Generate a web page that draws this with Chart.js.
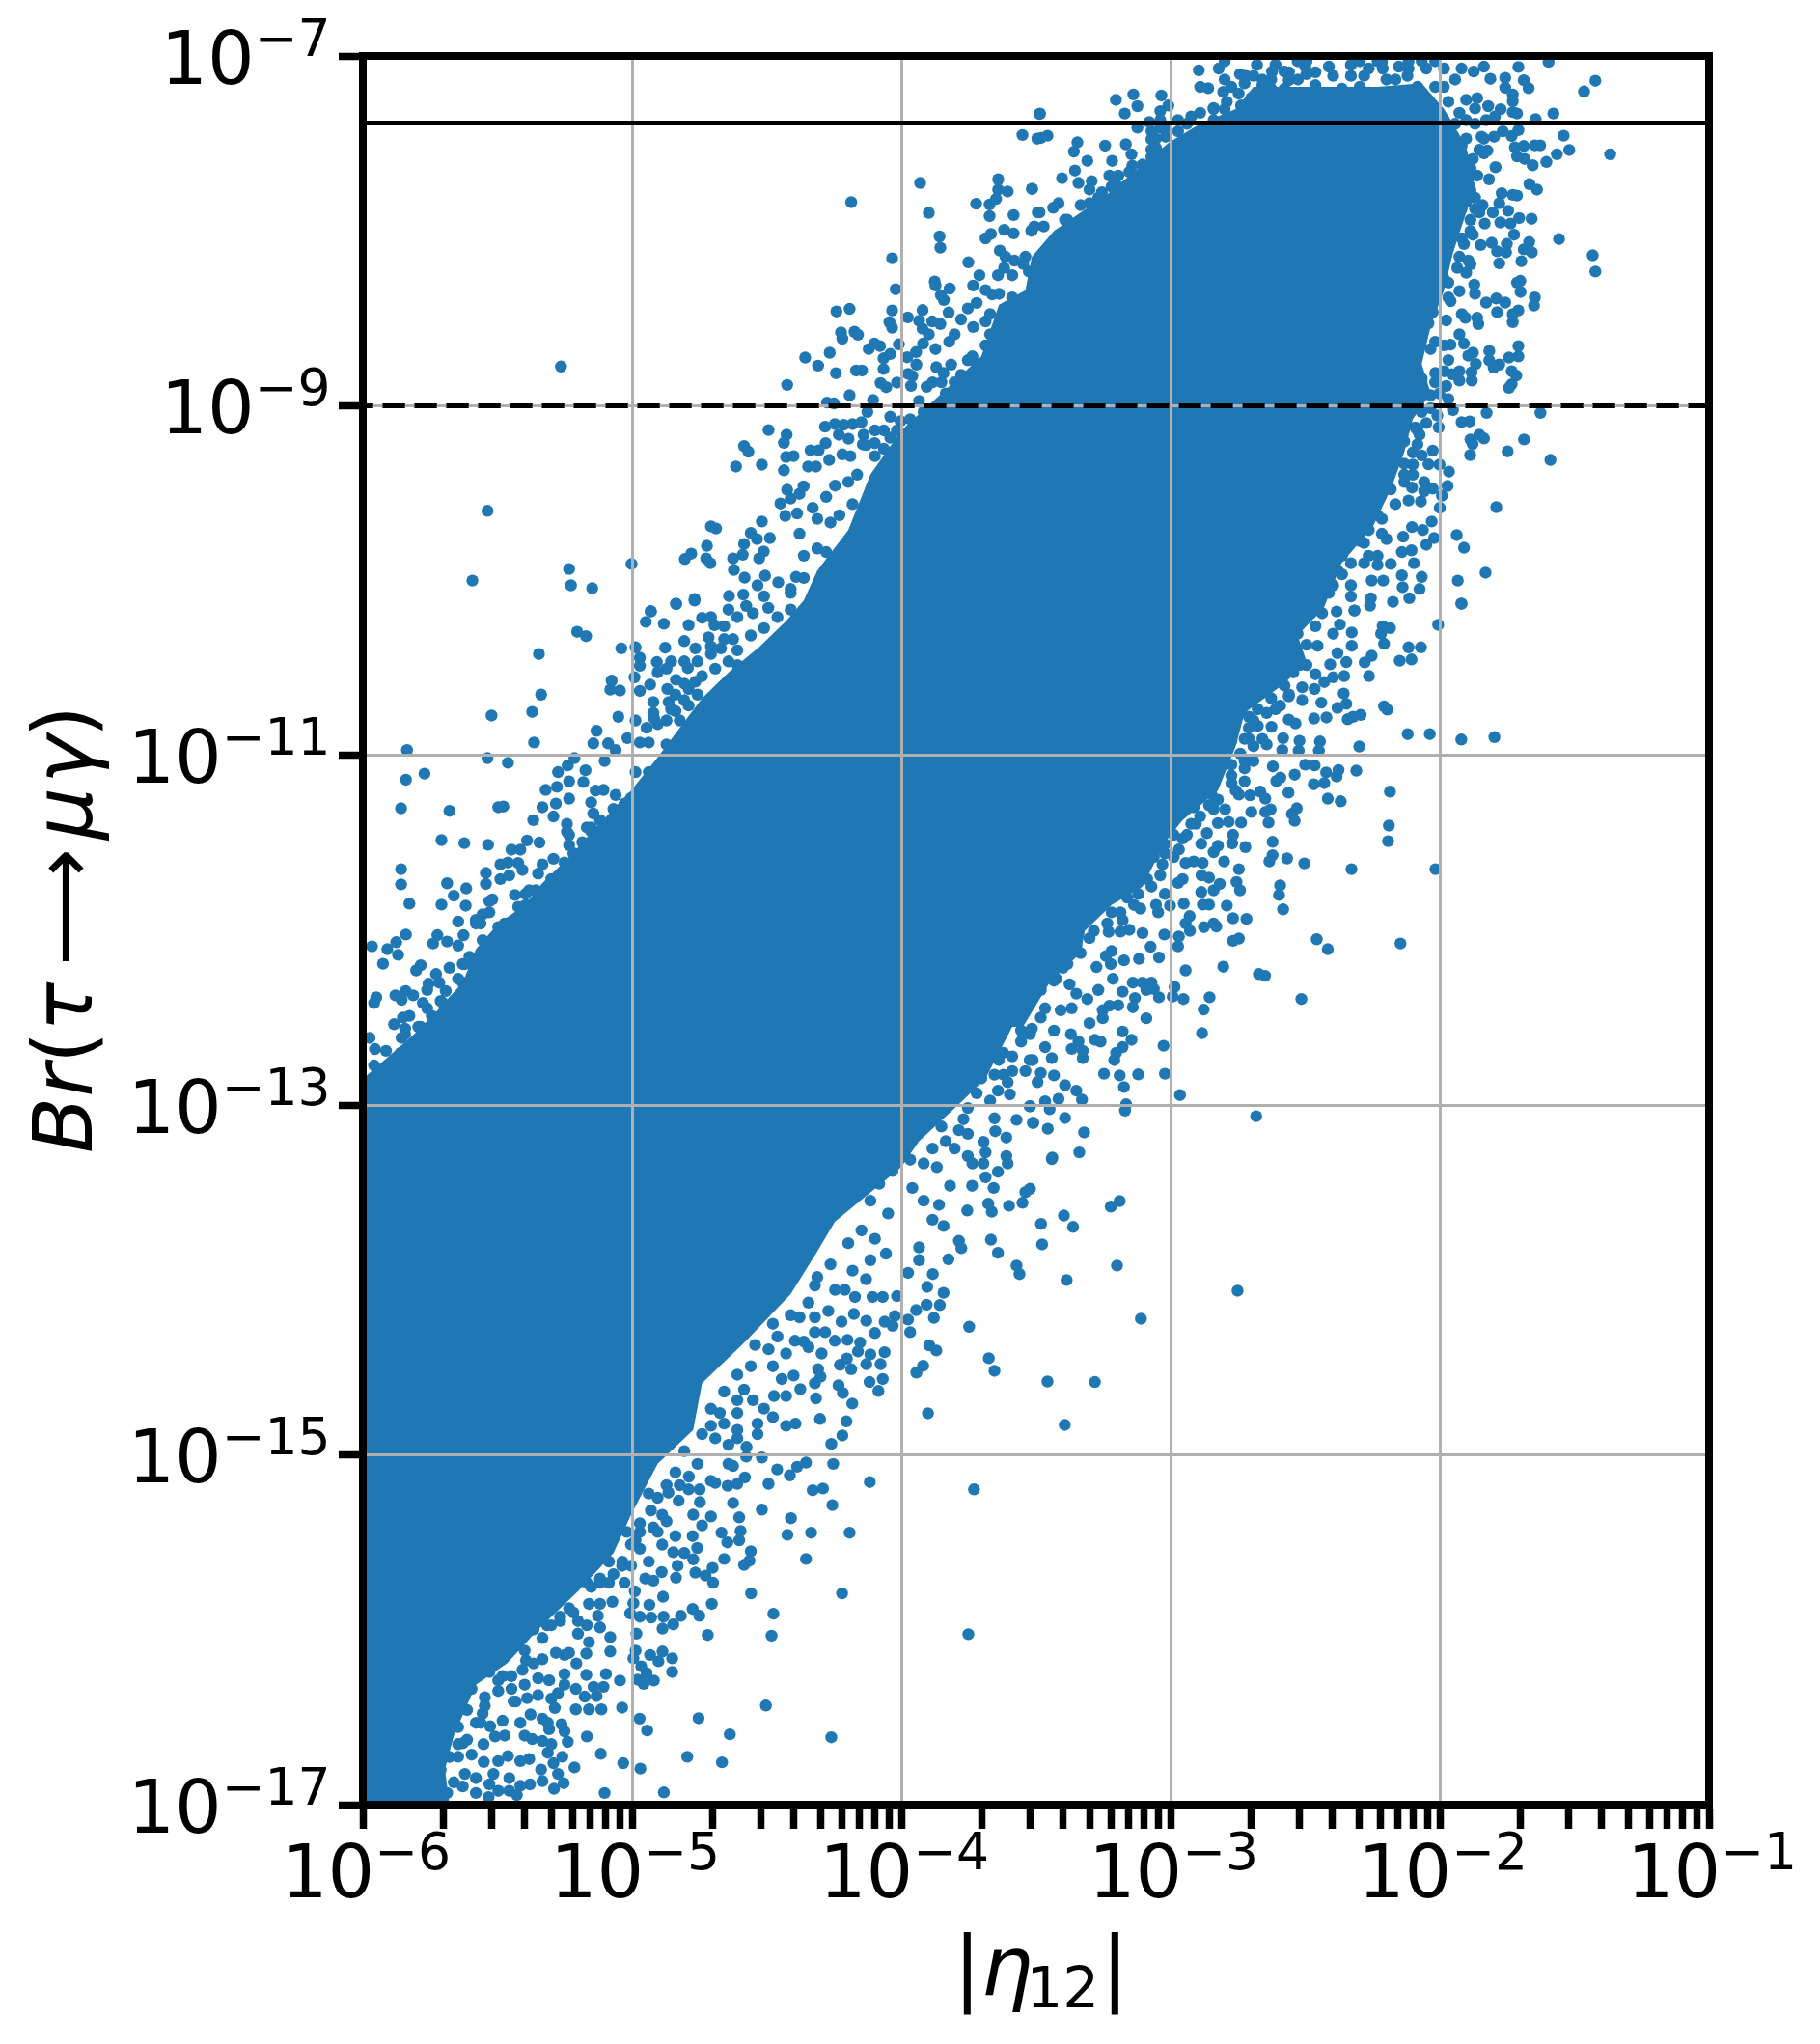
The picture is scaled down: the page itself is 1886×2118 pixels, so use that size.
<!DOCTYPE html>
<html>
<head>
<meta charset="utf-8">
<script src="https://cdn.jsdelivr.net/npm/chart.js@4/dist/chart.umd.min.js"></script>
<style>html,body{margin:0;padding:0;background:#fff}canvas{display:block}</style>
</head>
<body>
<canvas id="c" width="1886" height="2118"></canvas>
<script>
// All data pairs are [log10 |eta12|, log10 Br(tau -> mu gamma)].
const etaTickExponents = [-6,-5,-4,-3,-2,-1];
const etaMinorMultipliers = [2,3,4,5,6,7,8,9];
const brTickExponents = [-7,-9,-11,-13,-15,-17];
const limitBelle = 4.14e-8;
const limitFuture = 1e-9;

// Outline of the region where the points merge into a solid mass.
const solidCore = [
[-6,-12.85],[-5.983,-12.826],[-5.81,-12.594],[-5.728,-12.467],[-5.629,-12.298],[-5.58,-12.108],[-5.497,-11.961],[-5.399,-11.855],
[-5.333,-11.729],[-5.234,-11.581],[-5.135,-11.412],[-5.004,-11.201],[-4.905,-11.011],[-4.823,-10.842],[-4.74,-10.673],[-4.642,-10.525],
[-4.526,-10.377],[-4.427,-10.23],[-4.362,-10.112],[-4.312,-9.943],[-4.197,-9.711],[-4.115,-9.394],[-4,-9.141],[-3.851,-8.93],
[-3.703,-8.718],[-3.637,-8.423],[-3.539,-8.339],[-3.515,-8.148],[-3.433,-8],[-3.334,-7.895],[-3.235,-7.79],[-3.087,-7.6],
[-3.005,-7.494],[-2.89,-7.388],[-2.758,-7.304],[-2.692,-7.177],[-2.495,-7.177],[-2.23,-7.177],[-2.067,-7.156],[-1.984,-7.304],
[-1.902,-7.515],[-1.869,-7.747],[-1.902,-7.895],[-1.951,-8.127],[-1.984,-8.338],[-2.034,-8.55],[-2.067,-8.761],[-2.034,-8.93],
[-2.1,-9.077],[-2.132,-9.267],[-2.182,-9.478],[-2.248,-9.69],[-2.365,-9.901],[-2.43,-10.154],[-2.528,-10.314],[-2.495,-10.462],
[-2.577,-10.589],[-2.725,-10.757],[-2.758,-10.947],[-2.824,-11.201],[-2.955,-11.37],[-3.021,-11.496],[-3.104,-11.75],[-3.219,-11.855],
[-3.318,-12.003],[-3.334,-12.13],[-3.449,-12.298],[-3.548,-12.552],[-3.588,-12.552],[-3.687,-12.847],[-3.786,-12.995],[-3.934,-13.206],
[-4,-13.354],[-4.247,-13.667],[-4.312,-13.837],[-4.411,-14.08],[-4.576,-14.347],[-4.74,-14.59],[-4.773,-14.857],[-4.905,-15.051],
[-5.004,-15.343],[-5.069,-15.561],[-5.201,-15.78],[-5.349,-15.998],[-5.464,-16.192],[-5.58,-16.314],[-5.662,-16.605],[-5.695,-16.799],
[-5.678,-17],[-6,-17]
];

const pointsUpperLeft = [
[-5.264,-8.776],[-5.537,-9.601],[-5.593,-10],[-5.234,-9.934],[-5.227,-10.027],[-5.148,-10.044],[-5.002,-9.905],[-4.931,-10.175],
[-4.837,-10.131],[-4.768,-10.105],[-4.804,-9.877],[-4.78,-9.846],[-4.725,-9.873],[-4.709,-9.901],[-4.722,-9.801],[-4.707,-9.69],
[-4.688,-9.702],[-4.64,-10.088],[-4.622,-9.939],[-4.625,-9.873],[-4.589,-9.852],[-4.584,-9.791],[-4.559,-9.727],[-4.536,-9.763],
[-4.518,-9.662],[-4.488,-9.757],[-4.511,-9.833],[-4.528,-9.873],[-4.582,-9.983],[-4.506,-9.972],[-4.587,-10.08],[-4.534,-10.027],
[-4.51,-10.09],[-4.457,-10.01],[-4.391,-9.979],[-4.411,-10.07],[-4.614,-9.348],[-4.518,-9.337],[-4.584,-9.231],[-4.568,-9.263],
[-4.493,-9.139],[-4.426,-9.166],[-4.436,-9.212],[-4.428,-9.293],[-4.4,-9.288],[-4.436,-9.369],[-4.424,-9.481],[-4.411,-9.531],
[-4.449,-9.559],[-4.431,-9.63],[-4.378,-9.504],[-4.363,-9.461],[-4.387,-9.616],[-4.346,-9.348],[-4.317,-9.348],[-4.337,-9.255],
[-4.307,-9.255],[-4.281,-9.214],[-4.268,-9.31],[-4.283,-9.12],[-4.247,-9.105],[-4.214,-9.109],[-4.181,-9.105],[-4.148,-9.094],
[-4.232,-9.166],[-4.196,-9.189],[-4.219,-9.278],[-4.189,-9.288],[-4.14,-9.166],[-4.143,-9.221],[-4.099,-9.214],[-4.065,-9.141],
[-4.041,-9.063],[-4.003,-9.088],[-4.126,-9.035],[-4.276,-8.982],[-4.25,-8.987],[-4.192,-8.94],[-4.105,-8.967],[-4.424,-8.881],
[-4.243,-8.814],[-4.168,-8.799],[-4.146,-8.799],[-4.066,-8.79],[-4.077,-8.87],[-4.056,-8.894],[-4.016,-8.868],[-4.357,-8.725],
[-4.309,-8.771],[-4.266,-8.697],[-4.219,-8.617],[-4.224,-8.581],[-4.174,-8.577],[-4.161,-8.594],[-4.121,-8.676],[-4.1,-8.645],
[-4.079,-8.659],[-4.066,-8.729],[-4.041,-8.704],[-4.009,-8.649],[-4.241,-8.461],[-4.192,-8.446],[-4.044,-8.522],[-4.034,-8.554],
[-4.034,-8.455],[-3.976,-8.495],[-4.021,-8.334],[-4.034,-8.157],[-4.186,-7.836],[-3.93,-7.726],[-3.898,-7.897],[-3.858,-8.032],
[-3.855,-8.096],[-3.876,-8.29],[-3.873,-8.313],[-3.853,-8.368],[-3.842,-8.395],[-3.82,-8.33],[-3.921,-8.453],[-3.934,-8.514],
[-3.921,-8.56],[-3.885,-8.518],[-3.855,-8.533],[-3.824,-8.467],[-3.778,-8.507],[-3.898,-8.592],[-3.919,-8.645],[-3.873,-8.676],
[-3.945,-8.693],[-3.978,-8.723],[-3.944,-8.765],[-3.975,-8.818],[-3.959,-8.83],[-3.964,-8.887],[-3.906,-8.892],[-3.87,-8.78],
[-3.815,-8.765],[-3.843,-8.813],[-3.778,-8.824],[-3.736,-8.845],[-3.822,-8.634],[-3.802,-8.592],[-3.736,-8.718],[-3.753,-8.444],
[-3.72,-8.412],[-3.733,-8.55],[-3.687,-8.518],[-3.67,-8.476],[-3.733,-8.313],[-3.71,-8.254],[-3.687,-8.339],[-3.662,-8.364],
[-3.751,-8.18],[-3.641,-8.254],[-3.634,-8.113],[-3.613,-8.148],[-3.58,-8.17],[-3.539,-8.148],[-3.547,-8.19],[-3.526,-8.233],
[-3.618,-8.212],[-3.588,-8.254],[-3.687,-8.043],[-3.667,-8.018],[-3.618,-7.994],[-3.583,-8.015],[-3.517,-8],[-3.506,-7.975],
[-3.722,-7.845],[-3.672,-7.849],[-3.672,-7.916],[-3.583,-7.91],[-3.493,-7.895],[-3.648,-7.817],[-3.64,-7.764],[-3.64,-7.705],
[-3.605,-7.775],[-3.514,-7.76],[-3.55,-7.452],[-3.495,-7.473],[-3.486,-7.332],
[-4.378,-9.732],[-4.362,-9.858],[-4.312,-9.816],[-4.329,-9.584],[-4.263,-9.668],[-4.279,-9.521],[-4.312,-9.647],[-4.23,-9.626],
[-4.246,-9.457],[-4.197,-9.436],[-4.164,-9.394],[-4.181,-9.563],[-4.131,-9.225],[-4.098,-9.288],[-4.065,-9.246],[-4.041,-9.183],
[-4.098,-9.141],[-4.016,-9.141],[-3.967,-9.077],[-3.917,-9.035],[-3.95,-9.141],[-3.851,-8.866],[-3.884,-8.866],[-3.835,-8.93],
[-3.934,-8.972],[-3.802,-8.866],[-3.753,-8.74],[-3.72,-8.761],[-3.687,-8.655],[-3.67,-8.592],[-3.637,-8.55],[-3.588,-8.507],
[-3.555,-8.423],[-3.522,-8.36],[-3.489,-8.317],[-3.637,-8.36],[-3.588,-8.381],[-4.362,-9.985],[-4.312,-10.027],[-4.411,-10.048],
[-4.263,-9.901],[-4.279,-9.837]
];

const pointsUpperRight = [
[-3.485,-7.329],[-3.482,-7.469],[-3.457,-7.456],[-3.346,-7.494],[-3.359,-7.547],[-3.243,-7.513],[-3.166,-7.505],[-3.145,-7.562],
[-3.309,-7.6],[-3.217,-7.6],[-3.142,-7.627],[-3.355,-7.655],[-3.403,-7.699],[-3.515,-7.76],[-3.342,-7.726],[-3.293,-7.716],
[-3.227,-7.684],[-3.194,-7.684],[-3.104,-7.68],[-3.203,-7.251],[-3.138,-7.22],[-3.17,-7.329],[-3.123,-7.287],[-3.034,-7.226],
[-3.038,-7.315],[-3.008,-7.283],[-3.079,-7.378],[-3.123,-7.41],[-3.071,-7.477],[-3.038,-7.41],[-3.018,-7.462],[-3.071,-7.579],
[-3.054,-7.526],[-3.202,-7.737],[-3.301,-7.764],[-3.255,-7.779],[-3.436,-7.868],[-3.416,-7.842],[-3.487,-7.895],[-3.471,-7.975],
[-3.515,-7.996],[-3.392,-7.937],[-3.301,-7.842],[-2.895,-7.082],[-2.89,-7.177],[-2.86,-7.184],[-2.821,-7.072],[-2.799,-7.03],
[-2.742,-7.104],[-2.72,-7.114],[-2.799,-7.135],[-2.774,-7.177],[-2.804,-7.205],[-2.747,-7.215],[-2.679,-7.051],[-2.623,-7.089],
[-2.577,-7.089],[-2.561,-7.139],[-2.659,-7.167],[-2.626,-7.188],[-2.577,-7.188],[-2.5,-7.061],[-2.495,-7.104],[-2.462,-7.167],
[-2.412,-7.061],[-2.33,-7.051],[-2.363,-7.188],[-2.281,-7.114],[-2.212,-7.072],[-2.198,-7.135],[-2.152,-7.061],[-2.12,-7.114],
[-2.05,-7.072],[-2.84,-7.298],[-2.799,-7.304],[-2.738,-7.283],[-2.7,-7.24],[-2.544,-7.237],[-2.462,-7.262],[-2.396,-7.23],
[-2.264,-7.209],[-2.198,-7.209],[-2.116,-7.22],[-2.528,-7.03],[-2.297,-7.03],[-2.215,-7.034],[-2.116,-7.03],[-1.985,-7.177],
[-1.943,-7.135],[-1.919,-7.072],[-1.874,-7.089],[-1.836,-7.061],[-1.812,-7.131],[-1.757,-7.125],[-1.708,-7.063],[-1.596,-7.034],
[-1.688,-7.139],[-1.67,-7.184],[-1.757,-7.182],[-1.729,-7.22],[-1.729,-7.258],[-1.774,-7.304],[-1.729,-7.321],[-1.713,-7.329],
[-1.644,-7.361],[-1.578,-7.329],[-1.861,-7.241],[-1.869,-7.3],[-1.82,-7.287],[-1.902,-7.251],[-1.927,-7.325],[-1.968,-7.262],
[-1.464,-7.203],[-1.422,-7.142],[-1.828,-7.367],[-1.795,-7.346],[-1.708,-7.424],[-1.766,-7.431],[-1.798,-7.462],[-1.733,-7.458],
[-1.845,-7.462],[-1.54,-7.456],[-1.519,-7.538],[-1.367,-7.562],[-1.565,-7.562],[-1.604,-7.606],[-1.721,-7.522],[-1.688,-7.515],
[-1.647,-7.511],[-1.627,-7.511],[-1.713,-7.574],[-1.685,-7.589],[-1.655,-7.625],[-1.823,-7.541],[-1.877,-7.589],[-1.793,-7.636],
[-1.817,-7.705],[-1.861,-7.684],[-1.919,-7.515],[-1.667,-7.733],[-1.639,-7.764],[-1.77,-7.785],[-1.729,-7.794],[-1.713,-7.798],
[-1.779,-7.842],[-1.746,-7.885],[-1.841,-7.853],[-1.869,-7.874],[-1.886,-7.937],[-1.775,-7.952],[-1.833,-7.958],[-1.705,-7.927],
[-1.659,-7.931],[-1.737,-7.958],[-1.724,-8.022],[-1.877,-8.022],[-1.557,-8.047],[-1.668,-8.064],[-1.688,-8.106],[-1.658,-8.123],
[-1.751,-8.075],[-1.848,-8.081],[-1.807,-8.068],[-1.787,-8.117],[-1.754,-8.123],[-1.779,-8.186],[-1.697,-8.174],[-1.432,-8.14],
[-1.422,-8.233],[-1.91,-8.075],[-1.968,-8.064],[-1.894,-8.17],[-1.902,-8.239],[-1.872,-8.307],[-1.701,-8.286],[-1.713,-8.296],
[-1.7,-8.349],[-1.647,-8.381],[-1.65,-8.427],[-1.828,-8.41],[-1.79,-8.387],[-1.757,-8.41],[-1.787,-8.465],[-1.708,-8.455],
[-1.729,-8.476],[-1.729,-8.522],[-1.869,-8.36],[-1.927,-8.345],[-1.96,-8.402],[-1.918,-8.476],[-1.905,-8.497],[-1.861,-8.497],
[-1.857,-8.533],[-1.976,-8.512],[-1.927,-8.592],[-1.91,-8.645],[-1.96,-8.651],[-1.816,-8.687],[-1.708,-8.659],[-1.708,-8.718],
[-1.743,-8.725],[-1.816,-8.74],[-1.779,-8.765],[-1.8,-8.782],[-1.866,-8.761],[-1.877,-8.697],[-1.894,-8.714],[-1.733,-8.803],
[-1.716,-8.828],[-1.733,-8.877],[-1.743,-8.898],[-1.882,-8.809],[-1.881,-8.856],[-1.927,-8.803],[-1.955,-8.82],[-1.927,-8.856],
[-1.976,-8.887],[-1.968,-8.961],[-1.826,-9.041],[-1.626,-9.041],[-1.951,-9.025],[-1.919,-9.094],[-1.889,-9.09],[-1.836,-9.187],
[-1.853,-9.166],[-1.886,-9.193],[-1.878,-9.219],[-1.687,-9.193],[-1.748,-9.261],[-1.887,-9.282],[-1.589,-9.31],[-1.966,-9.377],
[-1.971,-9.459],[-1.992,-9.514],[-1.79,-9.58],[-2,-9.584],[-1.937,-9.74],[-1.91,-9.812],[-1.83,-9.955],[-1.933,-10],
[-1.92,-10.131],[-2.021,-9.757],[-2.05,-9.795],[-2.103,-9.694],[-2.063,-9.711],[-2.03,-9.662],[-2.136,-9.749],[-2.105,-9.827],
[-2.141,-9.837],[-2.096,-9.901],[-2.141,-9.97],[-2.067,-9.979],[-2.138,-10.038],[-2.075,-10.048],[-2.113,-10.101],[-2.174,-10.122],
[-2.256,-10.101],[-2.259,-10.143],[-2.317,-10.171],[-2.21,-10],[-2.253,-10],[-2.33,-10.027],[-2.1,-9.337],[-2.042,-9.335],
[-2.001,-9.337],[-2.103,-9.468],[-2.058,-9.436],[-2.026,-9.474],[-2.058,-9.489],[-2.07,-9.548],[-2.116,-9.542],[-2.067,-9.284],
[-2.026,-9.257],[-2.091,-9.124],[-2.05,-9.099],[-2.004,-9.124],[-2.075,-9.166],[-2.083,-9.221],[-2.132,-9.204],[-2.009,-9.056],
[-2.058,-8.919],[-2.034,-8.94],[-2.067,-8.845],[-2.017,-8.813],[-2.034,-8.676],[-1.984,-8.655],[-2.042,-8.529],[-2.026,-8.465],
[-2.059,-8.423],[-2.042,-8.317],[-1.984,-8.275],[-1.992,-8.17],[-1.968,-7.916],[-1.919,-7.874],[-1.984,-7.747],[-1.886,-7.769],
[-1.902,-7.684],[-1.968,-7.621],[-2.182,-9.204],[-2.198,-9.288],[-2.132,-9.394],[-2.182,-9.478],[-2.215,-9.647],[-2.198,-9.763],
[-2.281,-9.785],[-2.347,-9.774],[-2.231,-9.859],[-2.33,-9.901],[-2.231,-9.911],[-2.182,-9.905],[-2.379,-9.943],[-2.412,-10.07],
[-2.33,-10.091],[-2.478,-9.996],[-2.495,-10.154],
[-3.466,-8.127],[-3.383,-7.937],[-3.334,-7.853],[-3.268,-7.811],[-3.219,-7.747],[-3.169,-7.747],[-3.136,-7.705],[-3.104,-7.621],
[-3.071,-7.536],[-3.054,-7.473],[-3.021,-7.41],[-2.972,-7.367],[-2.923,-7.346],[-2.84,-7.304],[-2.791,-7.262],[-2.725,-7.156],
[-2.659,-7.135],[-2.972,-7.431],[-2.939,-7.388],[-2.89,-7.325],[-2.84,-7.367],[-3.071,-7.431],[-3.038,-7.367],[-3.153,-7.663],
[-2.626,-7.135],[-2.527,-7.135],[-2.462,-7.093],[-2.396,-7.114],[-2.33,-7.114],[-2.264,-7.072],[-2.165,-7.135],[-2.116,-7.072],
[-2.067,-7.03],[-2.61,-7.051],[-2.56,-7.093],[-2.495,-7.03],[-2.297,-7.177],[-2.231,-7.03],[-2.083,-7.177],[-2.017,-7.03],
[-1.984,-7.072],[-2.017,-7.177],[-2.692,-7.114],[-1.984,-7.367],[-1.943,-7.388],[-1.902,-7.367],[-1.869,-7.388],[-1.968,-7.473],
[-1.902,-7.473],[-1.836,-7.473],[-1.853,-7.536],[-1.836,-7.557],[-1.886,-7.642],[-1.902,-7.621],[-1.918,-7.726],[-1.869,-7.811],
[-1.902,-7.832],[-1.853,-7.895],[-1.803,-7.895],[-1.886,-8.001],[-1.918,-8.043],[-1.927,-8.148],[-1.886,-8.191],[-1.935,-8.212],
[-1.968,-8.296],[-1.968,-8.381],[-2.017,-8.634],[-1.968,-8.739],[-1.935,-8.824],[-1.984,-8.803],[-2.001,-8.93],[-2.017,-8.866],
[-2.034,-9.014],[-2.067,-9.035],[-2.083,-9.141],[-2.1,-9.267],[-2.132,-9.331],[-2.132,-9.436],[-2.1,-9.394],[-2.165,-9.563],
[-2.231,-9.626],[-2.215,-9.732],[-2.264,-9.711],[-2.297,-9.774],[-2.363,-9.964],[-2.396,-10.027],[-2.462,-10.091],[-2.363,-9.858],
[-2.281,-9.901],[-2.264,-9.858]
];

const pointsMiddleRight = [
[-1.919,-10.133],[-2.006,-10.253],[-2.185,-10.272],[-2.212,-10.261],[-2.218,-10.304],[-2.207,-10.361],[-2.116,-10.382],[-2.07,-10.382],
[-2.149,-10.458],[-2.105,-10.451],[-2.253,-10.43],[-2.279,-10.468],[-2.263,-10.546],[-2.327,-10.373],[-2.327,-10.297],[-2.383,-10.177],
[-2.317,-10.171],[-2.371,-10.251],[-2.396,-10.304],[-2.454,-10.373],[-2.495,-10.367],[-2.38,-10.415],[-2.347,-10.466],[-2.407,-10.479],
[-2.355,-10.546],[-2.396,-10.553],[-2.429,-10.58],[-2.462,-10.536],[-2.465,-10.62],[-2.357,-10.646],[-2.347,-10.705],[-2.38,-10.728],
[-2.44,-10.698],[-2.207,-10.719],[-2.195,-10.738],[-2.294,-10.768],[-2.322,-10.779],[-2.342,-10.793],[-2.421,-10.783],[-2.467,-10.789],
[-2.119,-10.878],[-2.037,-10.878],[-1.92,-10.909],[-1.797,-10.895],[-2.299,-10.949],[-2.445,-10.92],[-2.449,-10.973],[-2.521,-10.916],
[-2.524,-10.973],[-2.582,-10.901],[-2.585,-10.969],[-2.536,-10.817],[-2.561,-10.795],[-2.625,-10.836],[-2.31,-11.087],[-2.376,-11.083],
[-2.383,-11.12],[-2.422,-11.097],[-2.429,-11.158],[-2.468,-11.165],[-2.465,-11.057],[-2.5,-11.053],[-2.539,-11.11],[-2.592,-11.127],
[-2.607,-11.146],[-2.62,-11.063],[-2.185,-11.207],[-2.416,-11.247],[-2.368,-11.262],[-2.562,-11.213],[-2.189,-11.401],[-2.192,-11.49],
[-2.531,-11.302],[-2.549,-11.334],[-2.539,-11.374],[-2.628,-11.308],[-2.648,-11.323],[-2.636,-11.384],[-2.7,-11.323],[-2.667,-11.207],
[-2.648,-11.247],[-2.705,-11.228],[-2.746,-11.224],[-2.797,-11.308],[-2.738,-11.384],[-2.784,-11.38],[-2.824,-11.387],[-2.768,-11.454],
[-2.771,-11.503],[-2.722,-11.524],[-2.621,-11.494],[-2.621,-11.57],[-2.633,-11.606],[-2.567,-11.589],[-2.503,-11.617],[-2.328,-11.65],
[-2.016,-11.65],[-2.746,-11.65],[-2.801,-11.606],[-2.824,-11.517],[-2.84,-11.553],[-2.886,-11.505],[-2.865,-11.444],[-2.881,-11.615],
[-2.914,-11.606],[-2.944,-11.615],[-2.969,-11.538],[-2.885,-11.686],[-2.857,-11.699],[-2.817,-11.735],[-2.84,-11.771],[-2.886,-11.781],
[-2.755,-11.724],[-2.742,-11.771],[-2.593,-11.743],[-2.597,-11.798],[-2.582,-11.88],[-2.791,-11.859],[-2.857,-11.853],[-2.88,-11.853],
[-2.951,-11.847],[-3.002,-11.859],[-2.768,-11.931],[-2.718,-11.935],[-2.929,-11.919],[-2.944,-11.961],[-2.928,-12.003],[-2.876,-11.982],
[-2.84,-11.961],[-2.83,-11.978],[-2.457,-12.051],[-2.416,-12.108],[-2.146,-12.075],[-2.746,-12.047],[-2.768,-12.06],[-2.969,-12.035],
[-2.972,-12.092],[-3.023,-12.024],[-3.104,-12.016],[-3.153,-11.997],[-3.178,-11.942],[-3.23,-12.009],[-3.186,-12.007],[-3.074,-12.094],
[-3.117,-12.163],[-3.043,-12.155],[-3.173,-12.172],[-3.219,-12.119],[-3.24,-12.147],[-3.222,-12.193],[-3.275,-12.21],[-2.804,-12.208],
[-2.944,-12.229],[-2.672,-12.25],[-2.649,-12.26],[-2.514,-12.393],[-2.855,-12.383],[-2.877,-12.453],[-2.883,-12.588],[-2.952,-12.393],
[-2.992,-12.379],[-2.985,-12.324],[-3.043,-12.383],[-3.071,-12.299],[-3.104,-12.299],[-3.14,-12.299],[-3.062,-12.336],[-3.09,-12.341],
[-3.178,-12.351],[-3.132,-12.387],[-3.14,-12.44],[-3.194,-12.429],[-3.227,-12.431],[-3.252,-12.457],[-3.252,-12.503],[-3.214,-12.277],
[-3.268,-12.341],[-3.309,-12.393],[-3.09,-12.503],[-3.301,-12.531],[-3.178,-12.579],[-3.145,-12.626],[-3.178,-12.668],[-3.202,-12.7],
[-3.209,-12.742],[-3.281,-12.626],[-3.26,-12.636],[-3.026,-12.66],[-3.021,-12.82],[-3.12,-12.824],[-3.247,-12.82],[-3.189,-12.83],
[-3.173,-12.896],[-2.965,-12.942],[-3.165,-12.995],[-3.169,-13.031],[-3.326,-12.731],[-3.326,-12.689],[-3.367,-12.678],[-3.342,-12.636],
[-3.37,-12.594],[-3.433,-12.83],[-3.392,-12.885],[-3.35,-12.917],[-3.329,-12.968],[-3.416,-12.964],[-3.482,-12.816],[-3.494,-12.868],
[-3.466,-12.978],[-3.449,-13.023],[-3.523,-13.006],[-3.51,-13.101],[-3.456,-13.135],[-3.392,-13.073],[-3.321,-13.156],[-2.682,-13.063],
[-3.339,-13.27],[-3.439,-13.299],[-3.021,-11.792],[-3.054,-11.855],[-3.112,-11.876],[-3.046,-11.897],[-3.161,-11.813],[-3.219,-11.897],
[-3.285,-12.003],[-3.334,-12.13],[-3.383,-12.193],[-3.425,-12.277],[-3.466,-12.446],[-3.408,-12.457],[-3.367,-12.446],[-3.482,-12.499],
[-3.515,-12.562],[-3.433,-12.573],[-3.466,-12.668],[-3.441,-12.731],[-3.523,-12.742],[-3.35,-12.362],[-3.375,-12.309],[-3.433,-12.288],
[-3.515,-12.341],[-3.079,-11.517],[-3.021,-11.507],[-3.062,-11.581],[-3.03,-11.623],[-2.972,-11.729],[-2.955,-11.707],[-3.12,-11.623],
[-3.087,-11.707],[-3.153,-11.475],[-3.219,-11.623],[-3.301,-11.771],[-2.955,-11.475],[-2.906,-11.391],[-2.84,-11.306],[-2.914,-11.296],
[-2.848,-11.222],[-2.774,-11.158],[-2.725,-11.148],[-2.774,-11.053],[-2.725,-11.032],[-2.692,-11.032],[-2.692,-10.947],[-2.774,-10.916],
[-2.709,-10.905],[-2.643,-10.937],[-2.676,-10.831],[-2.709,-10.779],[-2.61,-10.736],[-2.676,-10.736],[-2.561,-10.662],[-2.511,-10.684],
[-2.643,-10.61],[-2.577,-10.6],[-2.511,-10.61],[-2.519,-10.483],[-2.626,-10.441],[-2.462,-10.261],[-2.528,-10.304],[-2.478,-10.187],
[-2.437,-10.187],[-2.544,-10.377],
[-2.495,-10.483],[-2.544,-10.525],[-2.56,-10.652],[-2.593,-10.715],[-2.626,-10.673],[-2.643,-10.757],[-2.692,-10.8],[-2.709,-10.842],
[-2.725,-10.905],[-2.659,-10.905],[-2.741,-10.99],[-2.725,-11.074],[-2.774,-11.116],[-2.758,-11.201],[-2.824,-11.253],[-2.857,-11.285],
[-2.89,-11.348],[-2.923,-11.391],[-2.939,-11.454],[-2.988,-11.454],[-2.988,-11.581],[-3.021,-11.56],[-3.038,-11.686],[-3.071,-11.75],
[-3.12,-11.792],[-3.136,-11.855],[-3.186,-11.897],[-3.235,-11.961],[-3.301,-11.918],[-3.301,-12.045],[-3.35,-12.087],[-3.383,-12.108],
[-3.4,-12.214],[-3.441,-12.256],[-3.482,-12.341]
];

const pointsMiddleLeft = [
[-5.204,-10.293],[-5.171,-10.318],[-5.346,-10.42],[-5.338,-10.652],[-5.371,-10.751],[-5.522,-10.772],[-5.364,-10.926],[-5.836,-10.969],
[-5.537,-11.015],[-5.461,-11.042],[-5.771,-11.104],[-5.84,-11.139],[-5.858,-11.302],[-5.678,-11.317],[-5.497,-11.296],[-5.478,-11.292],
[-5.708,-11.484],[-5.623,-11.501],[-5.535,-11.511],[-5.39,-11.486],[-5.344,-11.498],[-5.448,-11.539],[-5.415,-11.539],[-5.367,-11.37],
[-5.858,-11.65],[-5.858,-11.737],[-5.827,-11.847],[-5.687,-11.731],[-5.616,-11.76],[-5.662,-11.802],[-5.708,-11.853],[-5.618,-11.859],
[-5.543,-11.672],[-5.543,-11.735],[-5.489,-11.623],[-5.461,-11.612],[-5.423,-11.615],[-5.407,-11.655],[-5.489,-11.707],[-5.456,-11.686],
[-5.435,-11.798],[-5.396,-11.792],[-5.53,-11.834],[-5.519,-11.823],[-5.423,-11.866],[-5.394,-11.855],[-5.358,-11.771],[-5.333,-11.623],
[-5.292,-11.591],[-5.349,-11.676],[-5.292,-11.792],[-5.251,-11.612],[-5.234,-11.513],[-5.242,-11.391],[-5.242,-11.437],[-5.292,-11.349],
[-5.333,-11.296],[-5.283,-11.275],[-5.234,-11.247],[-5.321,-11.197],[-5.279,-11.18],[-5.275,-11.095],[-5.239,-11.057],[-5.214,-11.015],
[-5.173,-11.085],[-5.181,-11.152],[-5.234,-11.148],[-5.152,-11.268],[-5.144,-11.332],[-5.135,-11.201],[-5.106,-11.197],[-5.061,-11.226],
[-5.102,-11.032],[-5.076,-10.572],[-5.081,-10.624],[-5.045,-10.629],[-5.051,-10.779],[-5.132,-10.859],[-5.144,-10.931],[-5.089,-10.931],
[-5.061,-10.969],[-5.017,-10.901],[-5.04,-10.388],[-4.987,-10.382],[-4.971,-10.441],[-4.971,-10.487],[-4.949,-10.236],[-4.93,-10.177],
[-4.882,-10.247],[-4.836,-10.135],[-4.768,-10.114],[-4.79,-10.255],[-4.74,-10.213],[-4.694,-10.255],[-4.806,-10.346],[-4.877,-10.384],
[-4.908,-10.466],[-4.872,-10.504],[-4.793,-10.5],[-4.837,-10.567],[-4.933,-10.595],[-4.991,-10.553],[-4.971,-10.631],[-4.921,-10.694],
[-4.869,-10.62],[-4.864,-10.694],[-4.806,-10.684],[-4.918,-10.789],[-4.946,-10.842],[-4.938,-10.926],[-4.872,-10.937],[-4.839,-10.747],
[-4.765,-10.388],[-4.716,-10.325],[-4.658,-10.261],[-4.609,-10.209],[-4.551,-10.187],[-4.494,-10.156],[-4.707,-10.42],[-4.67,-10.388],
[-4.625,-10.335],[-4.609,-10.483],[-4.765,-10.578],[-4.79,-10.62],[-5.966,-12.092],[-5.909,-12.108],[-5.876,-12.068],[-5.84,-12.024],
[-5.869,-12.14],[-5.925,-12.191],[-5.723,-12.028],[-5.739,-12.075],[-5.687,-12.064],[-5.626,-12.028],[-5.785,-12.2],[-5.802,-12.229],
[-5.728,-12.25],[-5.756,-12.305],[-5.716,-12.299],[-5.692,-12.347],[-5.879,-12.372],[-5.841,-12.347],[-5.856,-12.398],[-5.813,-12.372],
[-5.95,-12.383],[-5.958,-12.415],[-5.777,-12.415],[-5.761,-12.446],[-5.703,-12.415],[-5.662,-12.425],[-5.851,-12.499],[-5.827,-12.489],
[-5.884,-12.537],[-5.843,-12.562],[-5.785,-12.552],[-5.736,-12.499],[-5.687,-12.499],[-5.616,-12.478],[-5.856,-12.615],[-5.975,-12.615],
[-5.955,-12.679],[-5.914,-12.689],[-5.797,-12.689],[-5.736,-12.605],[-5.859,-12.742],[-5.958,-12.773],[-5.925,-12.805],[-5.879,-12.794],
[-5.802,-12.763],[-5.744,-12.752],[-5.876,-12.868],[-5.942,-12.911],[-5.975,-12.932],[-5.892,-12.974],[-5.958,-13.09],[-5.901,-13.132],
[-5.975,-13.196],[-5.925,-13.196],[-5.95,-13.291],[-5.859,-13.027],[-5.646,-12.087],[-5.58,-11.961],[-5.646,-11.95],[-5.555,-12.056],
[-5.604,-12.151],[-5.621,-12.193],[-5.497,-12.108],[-5.432,-12.087],[-5.382,-12.193],[-5.464,-12.235],[-5.629,-12.299],[-5.563,-12.425],
[-5.53,-12.235],[-4.987,-11.095],[-4.938,-11.095],[-5.028,-11.275],[-5.086,-11.412],[-5.152,-11.412],[-5.037,-11.433],
[-3.572,-13.084],[-3.511,-13.101],[-3.654,-13.075],[-3.641,-12.917],[-3.605,-12.868],[-3.597,-12.938],[-3.522,-13.006],[-3.651,-13.149],
[-3.61,-13.185],[-3.695,-13.21],[-3.687,-13.27],[-3.61,-13.291],[-3.605,-13.333],[-3.753,-13.291],[-3.736,-13.333],[-3.695,-13.333],
[-3.753,-13.164],[-3.786,-13.143],[-3.512,-12.742],[-3.588,-12.805],[-3.539,-12.805],[-3.703,-12.847],[-3.753,-12.89],[-3.555,-12.636],
[-3.638,-12.742],
[-5.563,-11.961],[-5.53,-11.897],[-5.473,-11.961],[-5.423,-11.971],[-5.58,-11.94],[-5.555,-11.908],[-5.497,-11.982],[-5.761,-12.341],
[-5.678,-12.214],[-5.646,-12.277],[-5.629,-12.193],[-5.711,-12.404],[-5.662,-12.404],[-5.678,-12.446],[-5.744,-12.489],[-5.794,-12.552],
[-5.843,-12.594],[-5.859,-12.7],[-5.892,-12.763],[-5.925,-12.826],[-5.958,-12.932],[-5.876,-12.868],[-5.81,-12.679],[-5.752,-12.615],
[-5.703,-12.573],[-5.662,-12.552],[-5.333,-11.855],[-5.366,-11.918],[-5.325,-11.792],[-5.382,-11.771],[-5.3,-11.707],[-5.267,-11.792],
[-5.25,-11.665],[-5.218,-11.56],[-5.185,-11.496],[-5.152,-11.433],[-5.102,-11.412],[-5.069,-11.433],[-5.036,-11.306],[-5.004,-11.243],
[-5.069,-11.306],[-5.119,-11.37],[-5.168,-11.412],[-5.234,-11.454],[-4.971,-10.926],[-4.905,-10.821],[-4.872,-10.8],[-4.823,-10.8],
[-4.855,-10.736],[-4.79,-10.715],[-4.757,-10.652],[-4.839,-10.652],[-4.806,-10.589],[-4.74,-10.546],[-4.691,-10.504],[-4.642,-10.462],
[-4.609,-10.399],[-4.559,-10.314],[-4.51,-10.272],[-4.46,-10.209],[-4.411,-10.166],[-4.658,-10.335],[-4.707,-10.377],[-4.757,-10.462],
[-4.806,-10.462],[-4.855,-10.462],[-4.905,-10.525],[-4.707,-10.209],[-4.642,-10.166],[-4.576,-10.145],[-4.921,-10.757],[-4.987,-10.8],
[-3.522,-12.594],[-3.555,-12.573],[-3.621,-12.7],[-3.588,-12.721],[-3.654,-12.826],[-3.621,-12.826],[-3.72,-12.932],[-3.67,-12.974],
[-3.753,-13.016],[-3.769,-13.08],[-3.851,-13.122],[-3.835,-13.206],[-3.884,-13.248],[-3.802,-13.248],[-3.917,-13.333],[-3.868,-13.354],
[-3.967,-13.312]
];

const pointsLower = [
[-3.522,-13.478],[-3.539,-13.497],[-3.55,-13.558],[-3.6,-13.575],[-3.677,-13.563],[-3.664,-13.609],[-3.755,-13.602],[-3.481,-13.679],
[-3.667,-13.769],[-3.641,-13.844],[-3.477,-13.796],[-3.572,-13.917],[-3.561,-13.966],[-3.843,-14.073],[-3.748,-14.267],[-3.675,-14.447],
[-3.654,-14.519],[-3.901,-14.762],[-3.73,-15.197],[-3.751,-16.025],[-3.883,-13.966],[-3.904,-14.039],[-3.857,-14.143],[-3.906,-14.141],
[-3.945,-14.172],[-3.879,-14.216],[-3.975,-14.226],[-3.967,-14.298],[-3.896,-14.374],[-3.87,-14.403],[-3.919,-14.49],[-3.944,-14.529],
[-3.825,-13.881],[-3.786,-13.776],[-3.777,-13.818],[-3.843,-13.691],[-3.884,-13.655],[-3.86,-13.57],[-3.819,-13.461],[-3.737,-13.461],
[-3.687,-13.412],[-3.641,-13.381],[-3.657,-13.473],[-3.934,-13.886],[-3.975,-13.959],[-3.934,-13.813],[-3.917,-13.546],[-3.959,-13.473],
[-4.117,-15.155],[-4.253,-15.051],[-4.354,-15.044],[-4.387,-15.068],[-4.414,-15.117],[-4.291,-15.192],[-4.329,-15.202],[-4.256,-15.287],
[-4.41,-15.362],[-4.423,-15.457],[-4.335,-15.445],[-4.192,-15.445],[-4.354,-15.595],[-4.22,-15.792],[-4.558,-15.792],[-4.475,-15.908],
[-4.482,-16.034],[-4.719,-16.03],[-4.503,-16.433],[-4.26,-16.615],[-4.753,-16.506],[-4.637,-16.598],[-4.795,-16.726],[-4.666,-16.758],
[-4.882,-16.93],[-4.972,-16.508],[-4.944,-16.576],[-4.969,-16.794],[-5.033,-16.763],[-5.102,-16.933],[-5.116,-16.709],[-5.214,-16.787],
[-5.254,-16.877],[-5.29,-16.909],[-5.037,-16.445],[-5.114,-16.455],[-5.16,-16.455],[-5.168,-16.61],[-5.239,-16.641],[-5.259,-16.726],
[-4.186,-14.51],[-4.069,-14.566],[-4.118,-14.583],[-4.085,-14.634],[-4.182,-14.706],[-4.204,-14.808],[-4.219,-14.889],[-4.26,-14.937],
[-4.302,-14.794],[-4.393,-14.821],[-4.428,-14.833],[-4.317,-14.677],[-4.375,-14.624],[-4.4,-14.546],[-4.444,-14.566],[-4.233,-14.602],
[-4.217,-14.646],[-4.321,-14.59],[-4.3,-14.553],[-4.309,-14.51],[-4.228,-14.485],[-4.202,-14.449],[-4.13,-14.481],[-4.077,-14.481],
[-4.062,-14.413],[-4.115,-14.425],[-4.161,-14.408],[-4.153,-14.357],[-4.2,-14.342],[-4.247,-14.347],[-4.098,-14.303],[-4.13,-14.233],
[-4.062,-14.238],[-4.032,-14.262],[-4.024,-14.206],[-4.222,-14.238],[-4.176,-14.194],[-4.172,-14.097],[-4.107,-14.097],[-4.069,-14.097],
[-4.016,-14.092],[-4.21,-14.056],[-4.321,-14.031],[-4.271,-14.177],[-4.378,-14.213],[-4.321,-14.213],[-4.321,-14.298],[-4.283,-14.298],
[-4.395,-14.347],[-4.362,-14.352],[-4.296,-14.42],[-4.345,-14.384],[-4.46,-14.323],[-4.428,-14.42],[-4.477,-14.493],[-4.518,-15.015],
[-4.461,-15.083],[-4.493,-15.165],[-4.576,-15.01],[-4.581,-15.129],[-4.609,-15.165],[-4.645,-15.177],[-4.625,-15.063],[-4.707,-15.148],
[-4.518,-15.313],[-4.625,-15.275],[-4.707,-15.352],[-4.602,-15.357],[-4.668,-15.445],[-4.597,-15.435],[-4.602,-15.488],[-4.646,-15.5],
[-4.559,-15.551],[-4.564,-15.605],[-4.658,-15.595],[-4.584,-15.629],[-4.775,-15.464],[-4.758,-15.532],[-4.74,-15.403],[-4.773,-15.342],
[-4.827,-15.262],[-4.748,-15.27],[-4.865,-15.216],[-4.773,-15.597],[-4.806,-15.561],[-4.847,-15.556],[-4.831,-15.634],[-4.837,-15.702],
[-4.765,-15.673],[-4.701,-15.646],[-4.727,-15.69],[-4.699,-15.731],[-4.89,-15.67],[-4.921,-15.719],[-4.951,-15.707],[-4.885,-15.811],
[-4.704,-15.852],[-4.775,-15.881],[-4.75,-15.92],[-4.819,-15.92],[-4.847,-15.969],[-4.887,-15.993],[-4.883,-15.925],[-4.929,-15.93],
[-4.971,-15.925],[-4.936,-15.857],[-4.995,-15.848],[-4.99,-15.78],[-5.007,-15.906],[-4.984,-16.022],[-5.081,-16.042],[-5.081,-16.124],
[-4.987,-16.119],[-4.995,-16.163],[-4.933,-16.144],[-4.887,-16.124],[-4.902,-16.18],[-4.851,-16.163],[-4.851,-16.241],[-4.966,-16.209],
[-4.946,-16.248],[-4.979,-16.285],[-4.957,-16.309],[-4.919,-16.29],[-5.045,-16.29],[-5.097,-16.253],[-5.106,-16.326],[-5.17,-16.258],
[-5.207,-16.192],[-5.17,-16.136],[-5.119,-15.986],[-5.073,-15.84],[-5.119,-15.852],[-5.127,-15.92],[-5.168,-15.974],[-5.16,-16.071],
[-5.251,-16.253],[-5.251,-16.314],[-5.209,-16.338],[-5.143,-16.326],[-5.132,-16.379],[-5.176,-16.382],[-5.209,-16.455],[-5.275,-16.362],
[-5.3,-16.394],[-5.287,-16.447],[-5.349,-16.374],[-5.39,-16.391],[-5.432,-16.41],[-5.377,-16.484],[-5.333,-16.508],[-5.313,-16.532],
[-5.308,-16.569],[-5.262,-16.54],[-5.251,-16.581],[-5.399,-16.605],[-5.371,-16.625],[-5.333,-16.636],[-5.3,-16.654],[-5.313,-16.703],
[-5.292,-16.763],[-5.275,-16.824],[-5.333,-16.865],[-5.338,-16.799],[-5.382,-16.739],[-5.415,-16.751],[-5.415,-16.892],[-5.379,-16.884],
[-5.456,-16.848],[-5.461,-16.722],[-5.497,-16.751],[-5.551,-16.756],[-5.515,-16.824],[-5.456,-16.921],[-5.497,-16.921],[-5.58,-16.933],
[-5.53,-16.884],[-5.58,-16.848],[-5.621,-16.824],[-5.428,-16.945],[-5.533,-16.957],[-5.473,-16.605],[-5.509,-16.61],[-5.552,-16.654],
[-5.596,-16.714],[-5.629,-16.649],[-5.527,-16.552],[-5.481,-16.52],[-5.415,-16.532],[-5.555,-16.479],[-5.44,-16.41],[-5.497,-16.35],
[-5.448,-16.338],[-5.399,-16.314],[-5.349,-16.277],[-5.308,-16.289],[-5.333,-16.168],[-5.283,-16.132],[-5.234,-16.132],[-5.407,-16.229],
[-5.481,-16.265],[-5.53,-16.241],[-5.394,-16.175],[-5.119,-15.707],[-5.028,-15.731],[-4.971,-15.537],[-4.938,-15.61],[-4.888,-15.513],
[-4.839,-15.464],[-4.905,-15.44],[-4.971,-15.44],[-4.872,-15.379],[-4.93,-15.318],[-4.823,-15.173],[-4.749,-15.197],[-4.789,-15.124],
[-4.691,-15.16],[-4.642,-15.051],[-4.473,-14.663],[-4.428,-14.663],[-4.51,-14.735],[-4.534,-14.821],[-4.477,-14.784],[-4.534,-14.881],
[-4.609,-14.857],[-4.658,-14.821],[-4.575,-14.954],[-4.642,-14.942],[-4.707,-14.833],[-4.609,-14.76],[-4.551,-14.687],[-4.584,-14.626],
[-2.751,-14.061],[-3.11,-14.221],[-3.199,-13.917],[-3.222,-13.58],[-3.189,-13.548],[-3.386,-14],[-3.396,-13.631],[-3.362,-13.696],
[-3.457,-14.58],[-3.281,-14.583],[-3.393,-14.828],[-3.441,-13.308],
[-5.662,-16.872],[-5.711,-16.8],[-5.678,-16.727],[-5.744,-16.945],[-5.687,-16.933],[-5.777,-16.921],[-5.646,-16.654],[-5.728,-16.629],
[-5.646,-16.556],[-5.613,-16.459],[-5.563,-16.532],[-5.662,-16.435],[-5.596,-16.338],[-5.547,-16.386],[-5.629,-16.241],[-5.563,-16.217],
[-5.497,-16.168],[-5.481,-16.095],[-5.415,-16.047],[-5.366,-15.998],[-5.316,-15.974],[-5.267,-15.95],[-5.218,-15.901],[-5.16,-15.852],
[-5.201,-16.022],[-5.251,-16.144],[-5.349,-15.877],[-5.234,-15.731],[-5.168,-15.731],[-5.086,-15.731],[-5.037,-15.634],[-5.086,-15.61],
[-5.004,-15.512],
[-4.033,-13.376],[-4.082,-13.449],[-4.115,-13.546],[-4.049,-13.619],[-4.148,-13.716],[-4.197,-13.789],[-4.098,-13.764],[-4.057,-13.849],
[-4.115,-13.886],[-4.181,-13.946],[-4.131,-13.995],[-4.263,-13.91],[-4.312,-13.983],[-4.246,-14.056],[-4.345,-14.129],[-4.411,-14.201],
[-4.477,-14.25],[-4.543,-14.371],[-4.493,-14.396],[-4.559,-14.493],[-4.609,-14.541],[-4.658,-14.638],[-4.609,-14.687],[-4.707,-14.736],
[-4.674,-14.76],[-4.74,-14.881],[-4.691,-14.905],[-4.609,-14.905],[-4.806,-14.978],[-4.757,-15.051],[-4.839,-15.1],[-4.79,-15.197],
[-4.872,-15.173],[-4.905,-15.245],[-4.938,-15.221],[-4.888,-15.343],[-4.971,-15.391],[-4.921,-15.415],[-5.02,-15.44],[-4.987,-15.488],
[-5.036,-15.61],[-5.069,-15.682],[-5.004,-15.634],[-5.119,-15.731],[-5.152,-15.755],[-5.234,-15.877],[-5.267,-15.925],[-5.201,-15.95],
[-5.3,-15.974],[-5.333,-16.047],[-5.399,-16.119],[-5.366,-16.192],[-5.448,-16.265],[-5.497,-16.289],[-5.547,-16.435],[-5.58,-16.532],
[-5.613,-16.629],[-5.646,-16.726],[-5.629,-16.896],[-5.711,-16.945]
];

const BLUE = '#1f77b4';
const FONT = '"DejaVu Sans"';
const fromLog = p => ({x: 10 ** p[0], y: 10 ** p[1]});
const etaTicks = [];
etaTickExponents.forEach((e, i) => {
  etaTicks.push(10 ** e);
  if (i < etaTickExponents.length - 1) etaMinorMultipliers.forEach(m => etaTicks.push(m * 10 ** e));
});
const brTicks = brTickExponents.map(e => 10 ** e);
const isDecade = v => { const e = Math.log10(v); return Math.abs(e - Math.round(e)) < 1e-6; };

const allPoints = [...pointsUpperLeft, ...pointsUpperRight, ...pointsMiddleRight, ...pointsMiddleLeft, ...pointsLower];

function drawPower(ctx, exp, x, y) {
  ctx.font = '76.5px ' + FONT;
  ctx.fillText('10', x, y);
  ctx.font = '53.5px ' + FONT;
  ctx.fillText('\u2212' + Math.abs(exp), x + 97.3, y - 29);
}
const powerWidth = exp => 97.3 + 44.8 + 34 * String(Math.abs(exp)).length;

const decorations = {
  id: 'decorations',
  afterDraw(chart) {
    const {ctx, chartArea: a, scales} = chart;
    chart.data.datasets.forEach((d, i) => {
      if (d.limitLine) chart.getDatasetMeta(i).dataset.draw(ctx, a);
    });
    ctx.save();
    ctx.strokeStyle = '#000';
    ctx.lineWidth = 8;
    ctx.strokeRect(a.left, a.top, a.right - a.left, a.bottom - a.top);
    ctx.fillStyle = '#000';
    ctx.textBaseline = 'alphabetic';
    ctx.textAlign = 'left';
    etaTickExponents.forEach(e => {
      const px = scales.x.getPixelForValue(10 ** e);
      drawPower(ctx, e, px + 3 - powerWidth(e) / 2, 1966);
    });
    brTickExponents.forEach(e => {
      const py = scales.y.getPixelForValue(10 ** e);
      drawPower(ctx, e, 342.5 - powerWidth(e), py + 28.5);
    });
    ctx.font = '85px ' + FONT;
    ctx.fillText('|', 988, 2066.5);
    ctx.fillText('|', 1141, 2066.5);
    ctx.font = 'italic 85px ' + FONT;
    ctx.fillText('\u03b7', 1016.6, 2066.5);
    ctx.font = '59.5px ' + FONT;
    ctx.fillText('12', 1063.5, 2080);
    ctx.translate(95, 0);
    ctx.rotate(-Math.PI / 2);
    const runs = [
      ['Br', 'italic', 1195], ['(', 'normal', 1102], ['\u03c4', 'italic', 1069],
      ['\u27f6', 'normal', 1001], ['\u03bc', 'italic', 870], ['\u03b3', 'italic', 812], [')', 'normal', 764]
    ];
    runs.forEach(([t, style, pen]) => {
      ctx.font = style + ' 85px ' + FONT;
      ctx.fillText(t, -pen, 0);
    });
    ctx.restore();
  }
};

new Chart(document.getElementById('c'), {
  type: 'scatter',
  data: {
    datasets: [
      {
        label: 'solid core',
        data: solidCore.map(fromLog),
        showLine: true, fill: 'shape', tension: 0,
        borderWidth: 0, pointRadius: 0, pointHitRadius: 0,
        backgroundColor: BLUE, borderColor: BLUE
      },
      {
        label: 'points',
        data: allPoints.map(fromLog),
        showLine: false, clip: 0,
        pointRadius: 6.2, pointBorderWidth: 0,
        pointBackgroundColor: BLUE, backgroundColor: BLUE
      },
      {
        label: 'Belle limit', limitLine: true,
        data: [{x: 1e-6, y: limitBelle}, {x: 1e-1, y: limitBelle}],
        showLine: true, borderColor: '#000', borderWidth: 5, pointRadius: 0, fill: false
      },
      {
        label: 'future limit', limitLine: true,
        data: [{x: 1e-6, y: limitFuture}, {x: 1e-1, y: limitFuture}],
        showLine: true, borderColor: '#000', borderWidth: 5, pointRadius: 0, fill: false,
        borderDash: [23, 10], borderDashOffset: 12.4
      }
    ]
  },
  options: {
    responsive: false,
    animation: false,
    events: [],
    layout: {padding: {top: 58, right: 115, left: 0, bottom: 0}},
    plugins: {legend: {display: false}, tooltip: {enabled: false}, title: {display: false}},
    scales: {
      x: {
        type: 'logarithmic', min: 1e-6, max: 1e-1,
        afterBuildTicks: s => { s.ticks = etaTicks.map(v => ({value: v})); },
        afterFit: s => { s.height = 248; },
        ticks: {display: false, autoSkip: false},
        border: {display: true, color: '#000', width: 8, z: 2},
        grid: {
          z: 1, drawTicks: true, tickLength: 25, tickWidth: 7.5, tickColor: '#000', lineWidth: 3,
          color: c => (c.tick && isDecade(c.tick.value)) ? '#b0b0b0' : 'rgba(0,0,0,0)'
        }
      },
      y: {
        type: 'logarithmic', min: 1e-17, max: 1e-7,
        afterBuildTicks: s => { s.ticks = brTicks.map(v => ({value: v})); },
        afterFit: s => { s.width = 376; },
        ticks: {display: false, autoSkip: false},
        border: {display: true, color: '#000', width: 8, z: 2},
        grid: {z: 1, drawTicks: true, tickLength: 25, tickWidth: 7.5, tickColor: '#000', lineWidth: 3, color: '#b0b0b0'}
      }
    }
  },
  plugins: [decorations]
});
</script>
</body>
</html>
